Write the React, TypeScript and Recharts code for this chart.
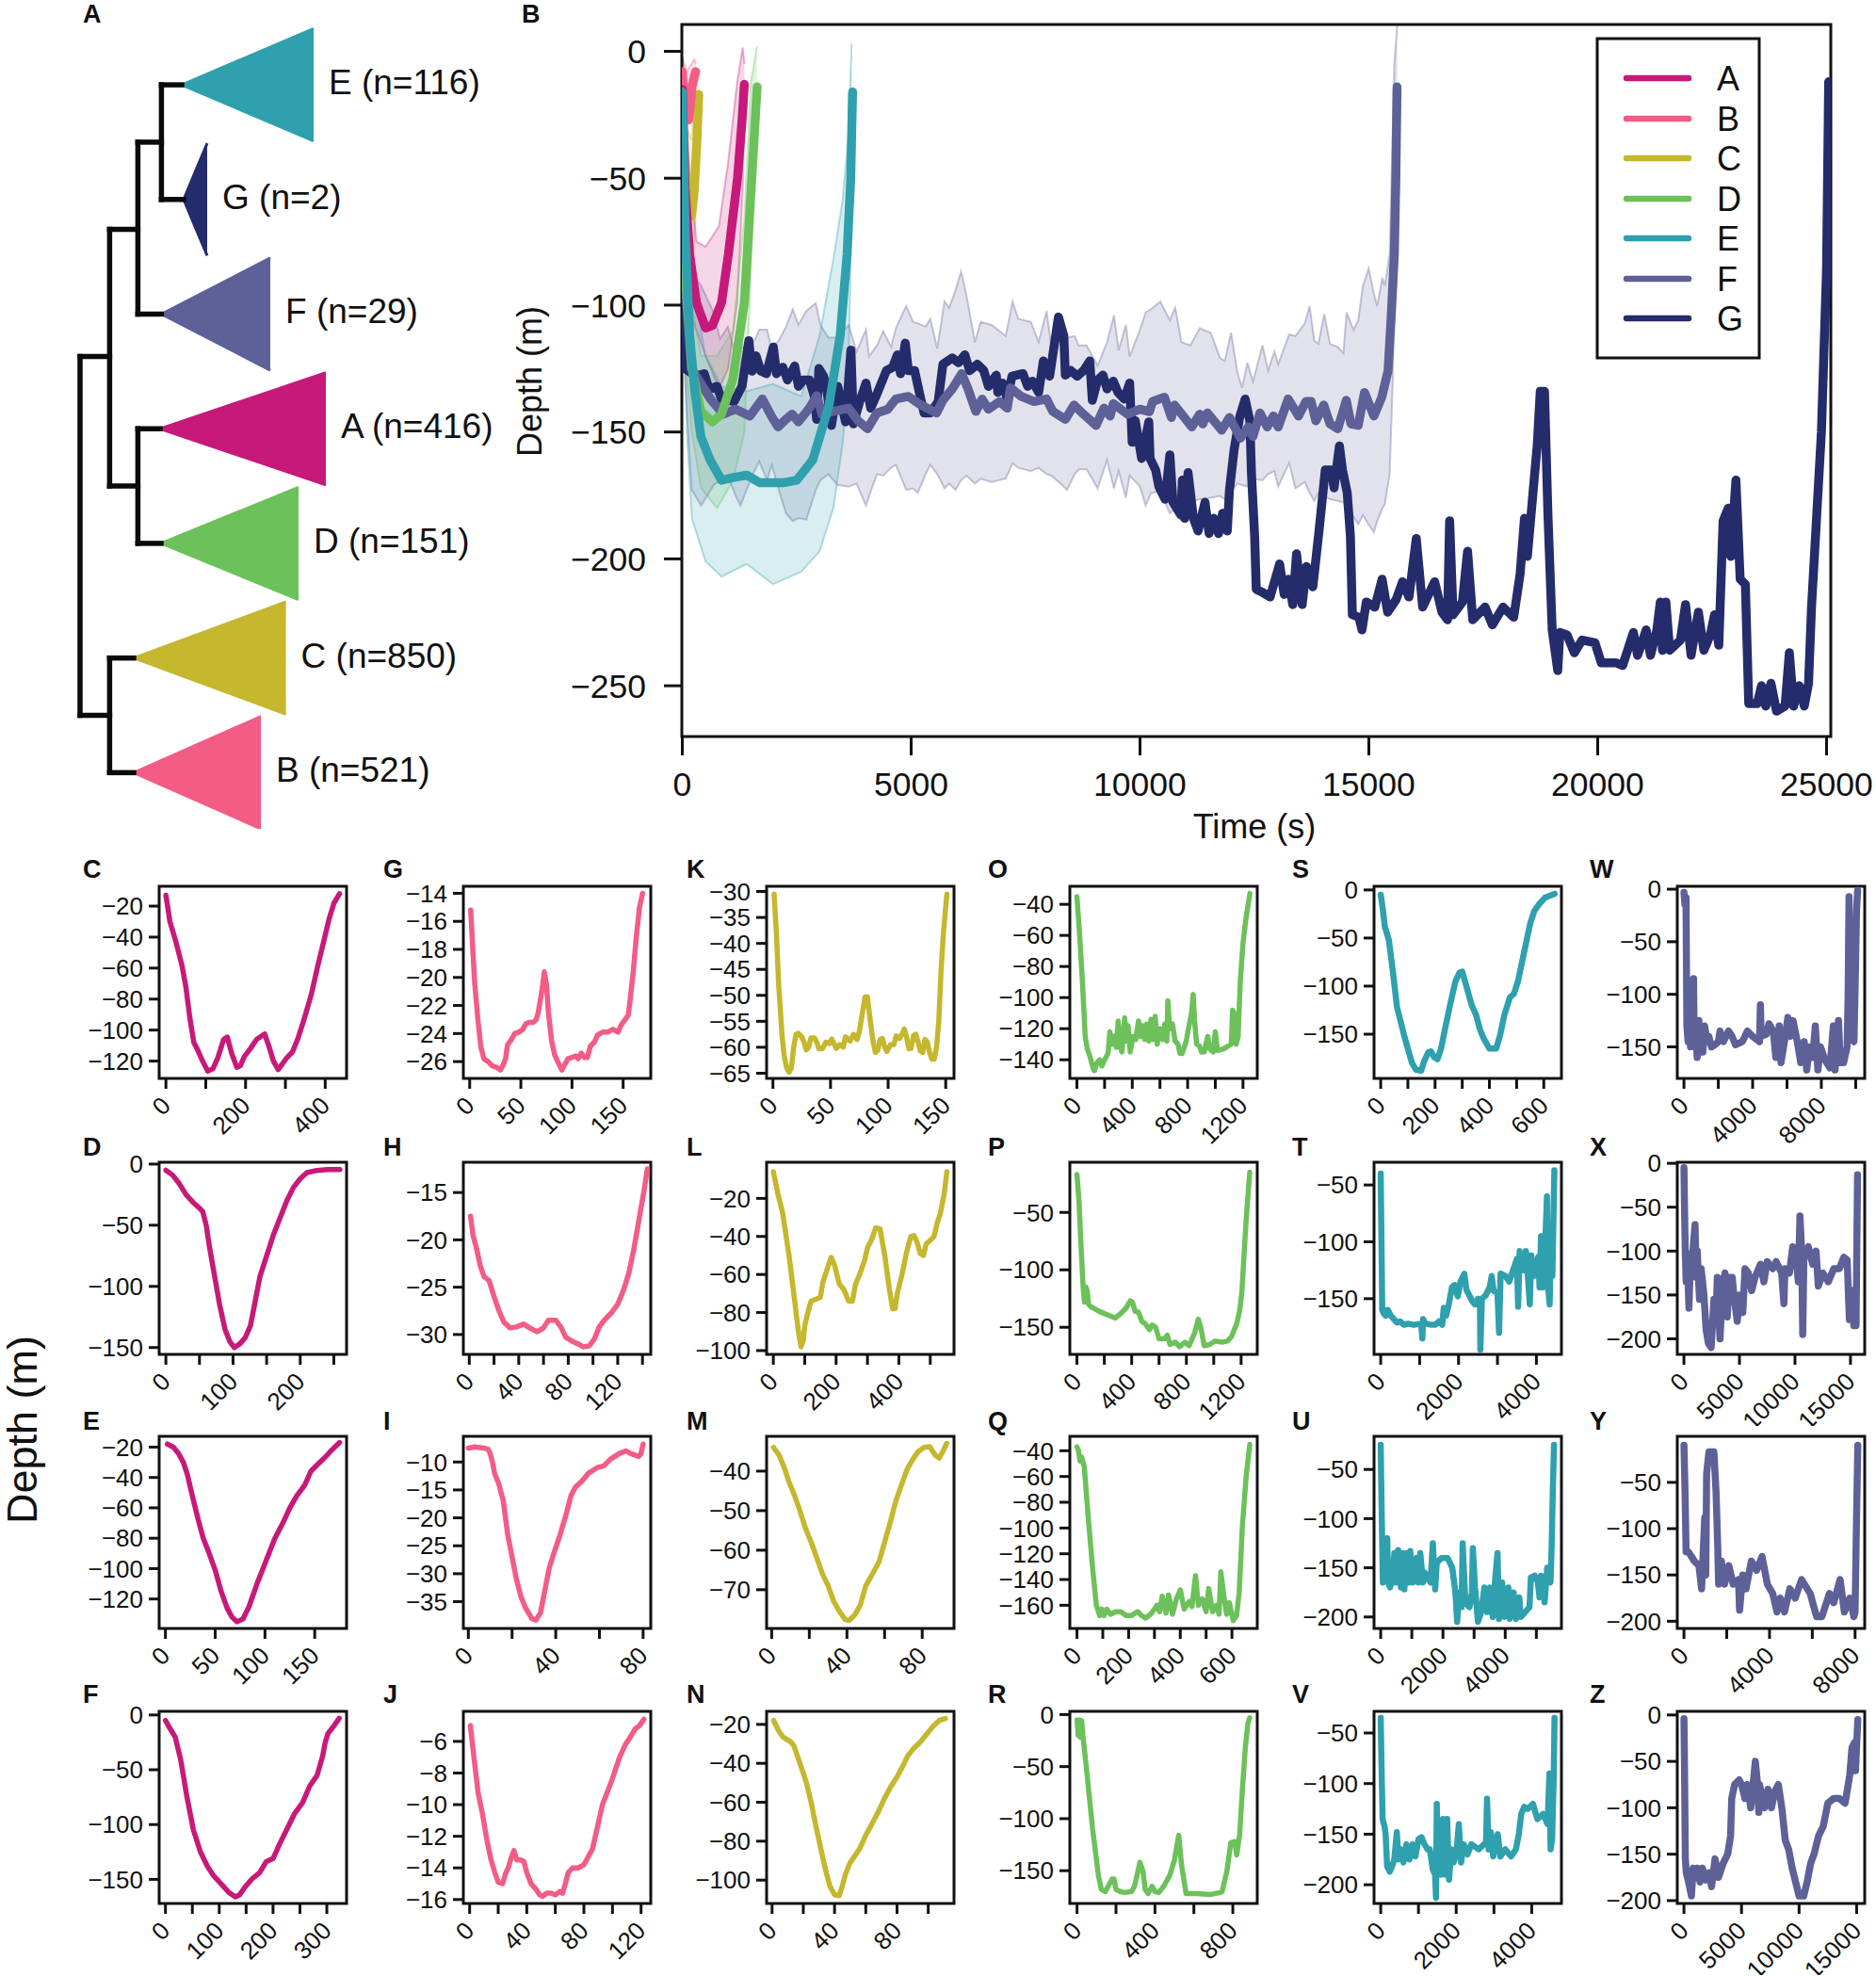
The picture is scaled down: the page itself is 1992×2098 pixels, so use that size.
import { Area, ComposedChart, Line, LineChart, ReferenceArea, XAxis, YAxis } from "recharts";

const FONT = "'Liberation Sans', Arial, sans-serif";
const INK = "#111";

const COLORS: Record<string, string> = {
  A: "#C7197A",
  B: "#F25C85",
  C: "#C5B72E",
  D: "#6CC15A",
  E: "#2FA0AD",
  F: "#5E6098",
  G: "#252C6B",
};
const legendNames = ["A", "B", "C", "D", "E", "F", "G"];

// panel A: tree, x is branch length, y is leaf order
const treeClades = ["E", "G", "F", "A", "D", "C", "B"];
const treeCounts = [116, 2, 29, 416, 151, 850, 521];
const treeTips = [193, 195, 171.4, 170, 171, 142, 142];
const treeBases = [333, 220, 287, 346, 317, 303.6, 277];
const treeBranches = [
  [[171.4, 1], [193, 1]], [[171.4, 1], [171.4, 2]], [[171.4, 2], [195, 2]],
  [[146.4, 1.5], [171.4, 1.5]], [[146.4, 1.5], [146.4, 3]], [[146.4, 3], [171.4, 3]],
  [[116.4, 2.26], [146.4, 2.26]], [[116.4, 2.26], [116.4, 4.5]], [[116.4, 4.5], [146.4, 4.5]],
  [[146.4, 4], [146.4, 5]], [[146.4, 4], [170, 4]], [[146.4, 5], [171, 5]],
  [[85, 3.37], [116.4, 3.37]], [[85, 3.37], [85, 6.5]], [[85, 6.5], [116.4, 6.5]],
  [[116.4, 6], [116.4, 7]], [[116.4, 6], [142, 6]], [[116.4, 7], [142, 7]],
];

// panel B: mean depth per cluster [time, depth]
const meanA = [[0,-15],[60,-54],[160,-80],[309,-99],[508,-109],[658,-108],[857,-99],[1007,-80],[1206,-50],[1306,-27],[1356,-13]];
const meanB = [[0,-8],[40,-18],[100,-25],[140,-27],[180,-20],[210,-14],[290,-8]];
const meanC = [[0,-20],[50,-45],[120,-62],[200,-65],[260,-55],[320,-35],[359,-17]];
const meanD = [[0,-40],[60,-86],[209,-125],[408,-142],[658,-146],[857,-143],[1107,-129],[1356,-99],[1505,-54],[1635,-14]];
const meanE = [[0,-16],[60,-70],[160,-112],[280,-135],[408,-152],[608,-161],[857,-169],[1100,-168],[1405,-167],[1700,-170],[1900,-170],[2200,-170],[2500,-169],[2850,-161],[3200,-140],[3450,-112],[3600,-80],[3680,-50],[3720,-16]];
const meanF = [[0,-20],[60,-90],[200,-125],[617,-137],[892,-143],[1166,-141],[1475,-143.7],[1749,-137],[1955,-144],[2092,-148],[2264,-145],[2401,-143],[2538,-146],[2778,-140.6],[2936,-135.7],[3053,-143],[3293,-141.9],[3636,-140.6],[3842,-145.6],[4047,-148.7],[4253,-142.5],[4493,-141],[4665,-137],[4939,-136],[5214,-139.4],[5557,-142.5],[5694,-137.5],[5900,-133],[6105,-127],[6243,-133],[6414,-141.9],[6551,-137],[6689,-141],[6929,-138],[7100,-140.6],[7169,-132.6],[7409,-136],[7683,-138],[7958,-137],[8095,-141.9],[8369,-145],[8560,-139.4],[8766,-143],[9040,-147.4],[9211,-140.6],[9349,-143.7],[9417,-138.8],[9726,-143],[10000,-141],[10206,-142],[10275,-138],[10535,-136.3],[10686,-144.3],[10755,-139.4],[11132,-148],[11304,-143],[11372,-146.8],[11475,-142.5],[11784,-149.3],[11955,-144.3],[12196,-152.4],[12367,-148],[12470,-151.7],[12621,-142.5],[12779,-148],[12916,-143.7],[13019,-148],[13238,-137],[13465,-143.7],[13623,-138],[13739,-138],[13842,-145.6],[14014,-139.4],[14151,-146.8],[14322,-148.7],[14507,-137.5],[14610,-146.8],[14768,-147.4],[14905,-134.4],[15111,-143.7],[15283,-136.3],[15420,-125.8],[15488,-104.7],[15557,-80],[15590,-50],[15616,-14]];
const meanG = [[0,-15],[30,-100],[60,-125],[300,-128],[480,-127],[583,-133],[755,-132],[858,-137],[1132,-138],[1303,-132],[1454,-114],[1523,-126],[1612,-120],[1715,-126],[1838,-127],[1989,-116.5],[2058,-127],[2195,-124.5],[2298,-129.5],[2456,-124],[2538,-132],[2641,-129.5],[2778,-129.5],[2881,-135.7],[2936,-145],[2984,-125],[3087,-128],[3155,-133],[3258,-147.4],[3396,-132],[3567,-146],[3684,-117.7],[3739,-146.8],[3876,-138],[4013,-130.7],[4116,-140.6],[4253,-135],[4459,-125.8],[4596,-124.5],[4699,-119.6],[4768,-127],[4871,-115],[4939,-125.8],[5076,-125.8],[5179,-134.4],[5282,-142.5],[5419,-142.5],[5591,-138],[5694,-123.3],[5900,-120.8],[6037,-122.7],[6174,-119.6],[6277,-125.8],[6448,-123.3],[6586,-125.8],[6689,-132],[6860,-127.6],[6894,-134.4],[6997,-130.7],[7100,-137],[7203,-128],[7443,-127],[7546,-132],[7649,-130],[7786,-134.4],[7889,-122],[8026,-128],[8218,-104.7],[8335,-112],[8369,-127.6],[8491,-125.8],[8628,-128],[8766,-125.8],[8903,-122],[8958,-137.5],[9074,-129.5],[9191,-127.6],[9280,-133],[9417,-130],[9520,-134.4],[9657,-137],[9774,-130.7],[9829,-154],[9897,-145.6],[10035,-160.4],[10192,-146],[10220,-160.4],[10343,-165],[10412,-171.5],[10549,-176.5],[10652,-159],[10721,-177.7],[10892,-182.7],[10926,-169],[10974,-184],[11050,-166],[11167,-184],[11270,-189],[11420,-177.7],[11510,-190],[11613,-184],[11716,-190],[11805,-182],[11907,-189],[11955,-172.8],[12058,-156.7],[12180,-144],[12298,-137],[12400,-145.6],[12436,-166.6],[12505,-191],[12540,-212],[12656,-213],[12843,-215],[13050,-202],[13150,-214],[13245,-208],[13338,-218],[13420,-198],[13543,-218],[13637,-203],[13777,-211],[13911,-189],[14048,-165],[14185,-165],[14240,-172],[14357,-155.5],[14425,-165],[14528,-174],[14597,-191],[14640,-222],[14785,-223],[14850,-228],[14944,-217],[15130,-219],[15290,-208],[15410,-221],[15597,-216],[15737,-209],[15877,-215],[16036,-192],[16176,-219],[16438,-209],[16597,-221],[16718,-224],[16765,-185],[16840,-222],[17045,-217],[17157,-197],[17270,-224],[17540,-219],[17698,-226],[17932,-219],[18165,-223],[18305,-206],[18400,-184],[18464,-199],[18586,-174],[18680,-155],[18745,-134],[18838,-134],[18912,-182],[19006,-228],[19127,-244],[19174,-229],[19332,-230],[19491,-237],[19659,-232],[19939,-233],[20080,-241],[20406,-241],[20546,-242],[20780,-229],[20873,-238],[21060,-228],[21153,-238],[21293,-228],[21368,-217],[21415,-236],[21490,-217],[21573,-236],[21807,-232],[21919,-218],[22040,-238],[22200,-221],[22320,-236],[22460,-230],[22553,-222],[22646,-234],[22740,-185],[22852,-180],[22908,-199],[23020,-169],[23113,-208],[23226,-210],[23300,-257],[23487,-257],[23580,-250],[23673,-258],[23785,-249],[23907,-260],[24094,-258],[24187,-237],[24280,-258],[24402,-250],[24514,-258],[24607,-249],[24672,-219],[24794,-180],[24888,-150],[25000,-86],[25047,-12]];

// panel B: shaded range per cluster [time, low, high]
const rangeA = [[0,-30,-2],[60,-86,-20],[160,-103,-48],[309,-110,-75],[508,-120,-77],[800,-133,-69],[1000,-125,-44],[1200,-99,-12],[1320,-54,1.5],[1356,-25,-5]];
const rangeB = [[0,-15,-2],[100,-30,-8],[200,-20,-5],[260,-10,-3],[300,-9,-5]];
const rangeC = [[0,-10,-5],[100,-90,-30],[200,-95,-35],[300,-60,-10],[359,-25,-8]];
const rangeD = [[0,-60,-10],[60,-120,-50],[209,-150,-100],[408,-172,-120],[760,-180,-120],[1107,-169,-110],[1356,-150,-65],[1500,-86,-12],[1635,-20,2]];
const rangeE = [[0,-60,-8],[100,-150,-60],[209,-184,-90],[508,-201,-120],[857,-207,-132],[1405,-202,-134],[1984,-210,-131],[2600,-205,-136],[3000,-197,-112],[3300,-180,-82],[3500,-155,-59],[3630,-129,-33],[3700,-60,3]];
const rangeF = [[0,-60,-10],[60,-130,-60],[206,-172.8,-87.4],[412,-179,-92.4],[686,-170.9,-102.9],[823,-169,-113.4],[995,-167.2,-108.5],[1166,-175.2,-120.2],[1269,-179,-117.1],[1406,-172.8,-115.9],[1578,-165.4,-114],[1681,-161.6,-109.7],[1852,-169,-109.7],[1955,-162.9,-117.7],[2127,-174,-113.4],[2264,-182,-108.5],[2415,-185.1,-101.6],[2538,-183.9,-107.8],[2710,-184.5,-102.3],[2916,-172.8,-99.2],[3018,-169,-107.8],[3190,-166.6,-112.8],[3396,-170.9,-112.8],[3636,-171.5,-107.8],[3807,-170.3,-118.3],[4013,-179,-109.7],[4082,-175.2,-120.2],[4253,-166.6,-115.9],[4390,-167.2,-110.3],[4562,-164.1,-116.5],[4665,-162.9,-109.1],[4891,-172.8,-100.4],[5042,-172.2,-106.6],[5145,-174,-107.2],[5317,-166.6,-108.5],[5419,-162.9,-105.4],[5570,-166.6,-117.1],[5728,-172.2,-98.6],[5831,-170.3,-101],[5968,-172.8,-94.2],[6092,-169,-86.8],[6208,-167.2,-96.1],[6394,-170.3,-114.6],[6517,-168.4,-106.6],[6757,-169.7,-107.8],[7066,-168.4,-112.2],[7217,-162.3,-98.6],[7340,-164.1,-105.4],[7615,-165.4,-106.6],[7786,-164.1,-114.6],[7958,-166.6,-102.3],[8061,-167.2,-115.9],[8301,-170.9,-113.4],[8404,-172.8,-112.8],[8575,-166.6,-112.2],[8663,-164.7,-115.9],[8834,-164.7,-115.9],[9074,-172.2,-123.9],[9280,-161,-114.6],[9431,-172.2,-104.1],[9534,-165.4,-117.7],[9692,-175.9,-107.8],[9774,-167.2,-120.2],[10000,-171.5,-109.7],[10124,-179,-102.9],[10241,-174,-101.6],[10446,-173.4,-98.6],[10652,-182,-106],[10769,-180.2,-101],[10906,-179,-114.6],[11098,-177.7,-115.9],[11304,-176.5,-109.1],[11544,-175.9,-110.9],[11750,-175.2,-120.8],[11853,-176.5,-122],[11990,-173.4,-110.9],[12127,-170.3,-126.4],[12230,-170.9,-132.6],[12347,-171.5,-122.7],[12470,-168.4,-130.1],[12676,-169,-115.9],[12799,-166.6,-125.8],[12936,-165.4,-118.3],[13019,-171.5,-123.3],[13259,-162.3,-111.5],[13396,-172.2,-112.2],[13602,-169.7,-107.2],[13705,-174,-100.4],[13808,-177.1,-114],[13897,-174,-115.3],[14027,-175.2,-103.5],[14151,-176.5,-115.3],[14322,-177.1,-116.5],[14445,-177.7,-119],[14514,-180.2,-102.9],[14665,-183.3,-109.7],[14768,-186.4,-106],[14871,-182.7,-92.4],[14995,-186.4,-85.6],[15111,-189.5,-95.5],[15180,-185.1,-100.4],[15296,-180.2,-89.3],[15351,-178.3,-92.4],[15454,-166.6,-80],[15523,-129.5,-30],[15557,-92,-5],[15620,-14,10.4]];

const timeTicks = [0, 5000, 10000, 15000, 20000, 25000];
const depthTicks = [0, -50, -100, -150, -200, -250];

// panels C to Z: single dive profiles [time, depth]
const diveC = [[0,-13],[10,-30],[25,-43],[40,-58],[50,-72],[60,-92],[70,-108],[80,-113],[92,-120],[105,-126.5],[118,-125],[130,-118],[145,-106],[154,-104.5],[165,-115],[178,-124],[187,-123],[197,-117],[212,-112],[228,-106],[248,-102.5],[258,-110],[270,-120],[282,-125.5],[292,-122],[303,-118],[318,-114],[332,-105],[347,-93],[365,-77],[380,-60],[395,-44],[410,-28],[422,-18],[436,-12]];
const diveD = [[0,-5],[10,-9],[20,-16],[30,-25],[40,-31],[50,-36],[55,-39],[60,-50],[65,-68],[72,-90],[80,-115],[88,-135],[95,-145],[102,-150],[110,-147],[118,-142],[126,-132],[133,-112],[140,-92],[150,-75],[160,-58],[170,-44],[180,-30],[190,-19],[200,-12],[210,-7],[222,-5.5],[240,-4.5],[259,-4.5]];
const diveE = [[2,-18],[8,-20],[13,-24],[18,-30],[22,-38],[27,-52],[33,-68],[38,-80],[44,-90],[50,-101],[56,-115],[62,-126],[67,-132],[72,-135],[78,-133],[84,-125],[92,-110],[98,-100],[104,-90],[110,-80],[118,-70],[125,-60],[132,-52],[140,-45],[146,-36],[152,-32],[160,-27],[167,-22],[175,-17]];
const diveF = [[0,-5],[8,-12],[18,-20],[28,-40],[40,-75],[52,-105],[65,-125],[78,-138],[90,-147],[105,-155],[118,-162],[130,-166],[138,-164],[148,-157],[160,-150],[175,-144],[187,-134],[200,-131],[212,-118],[225,-105],[240,-90],[255,-80],[268,-65],[282,-55],[292,-38],[297,-25],[302,-17],[310,-12],[316,-8],[323,-3]];
const diveG = [[1,-15.2],[3,-18],[5,-20.5],[8,-23],[11,-25],[14,-25.8],[18,-26],[22,-26.3],[26,-26.4],[30,-26.6],[33,-26.2],[35,-25.8],[37,-24.8],[40,-24.5],[44,-24],[48,-23.9],[52,-23.7],[55,-23.3],[58,-23.2],[62,-23.2],[65,-23],[67,-22.5],[70,-21.2],[72,-20.2],[73,-19.6],[75,-20.5],[77,-22.5],[80,-24.5],[83,-25.5],[86,-26],[90,-26.6],[93,-26.2],[96,-25.8],[100,-25.7],[104,-25.6],[106,-25.8],[109,-25.4],[112,-25.7],[115,-25.7],[118,-24.9],[122,-24.6],[125,-24.1],[130,-23.9],[135,-23.9],[140,-23.7],[145,-23.9],[148,-23.4],[152,-23],[155,-22.7],[157,-21.5],[160,-19.5],[163,-17],[166,-15],[169,-14]];
const diveH = [[1,-17.5],[3,-19.5],[6,-21],[9,-22.8],[12,-23.9],[16,-24.3],[20,-26],[24,-27.5],[28,-28.7],[33,-29.3],[38,-29.2],[44,-28.9],[50,-29.4],[55,-29.7],[60,-29.3],[64,-28.5],[70,-28.5],[74,-29.2],[78,-30.3],[83,-30.7],[88,-31],[92,-31.3],[97,-31.2],[101,-30.5],[105,-29.2],[109,-28.5],[115,-27.7],[120,-26.8],[125,-25.2],[129,-23.5],[133,-21],[137,-18],[141,-15],[144,-12.5]];
const diveI = [[0,-7.5],[3,-7.3],[7,-7.5],[9,-7.7],[10,-8.5],[11,-10],[12,-12],[14,-14],[15,-15.5],[16,-17],[17,-20],[18,-23],[20,-27],[22,-31],[24,-34],[26,-36],[29,-38],[31,-38.3],[33,-37],[35,-33],[37,-29],[39,-26.5],[42,-23],[45,-19],[47,-16],[49,-14.5],[52,-13.4],[55,-12],[59,-11],[62,-10.7],[65,-9.5],[69,-8.5],[72,-8],[75,-8.6],[78,-9],[79,-8.5],[80,-6.8]];
const diveJ = [[0.5,-5],[3,-7],[6,-9.3],[9,-10.6],[12,-12.2],[15,-13.5],[18,-14.4],[20,-14.9],[23,-15],[25,-14.4],[27,-14],[29,-13.4],[31,-12.9],[33,-13.5],[36,-13.5],[38,-13.6],[40,-14.3],[43,-15],[46,-15.3],[49,-15.7],[51,-15.8],[54,-15.6],[57,-15.6],[60,-15.7],[63,-15.5],[65,-15.6],[67,-15],[69,-14.3],[72,-14],[76,-14],[80,-13.8],[83,-13.3],[86,-12.8],[88,-12],[91,-10.8],[93,-10],[96,-9.3],[99,-8.6],[102,-7.8],[105,-7],[109,-6.2],[112,-5.8],[116,-5.2],[119,-5],[122,-4.6]];
const diveK = [[1,-30.5],[3,-38],[5,-48],[8,-58],[10,-62],[12,-64],[14,-64.8],[16,-64],[18,-60],[20,-57.5],[22,-57.3],[25,-58],[27,-59],[29,-60.5],[31,-60],[33,-58.2],[36,-58.2],[38,-59],[40,-60.3],[43,-60.3],[46,-59],[49,-59.3],[51,-58.4],[53,-59.3],[55,-60.2],[58,-59.5],[61,-60],[63,-58],[65,-58.4],[67,-58.8],[70,-57.5],[73,-58.5],[75,-57],[78,-53],[80,-50.3],[82,-50.3],[84,-54],[87,-59],[89,-61],[91,-60.6],[93,-58.5],[95,-58.3],[97,-60],[99,-60.8],[102,-59.5],[105,-59.5],[107,-57.8],[110,-58.3],[112,-57.5],[114,-56.5],[116,-58],[118,-60.3],[120,-60.2],[122,-57.8],[124,-57.5],[126,-59],[128,-60.7],[130,-61],[132,-58.5],[134,-59],[136,-61],[138,-62.3],[140,-62.3],[142,-60],[144,-55],[146,-45],[148,-38],[151,-30.5]];
const diveL = [[0,-6],[15,-18],[30,-28],[50,-50],[65,-70],[80,-90],[88,-98],[95,-95],[100,-87],[110,-80],[120,-74],[135,-73],[150,-72],[158,-64],[170,-58],[184,-51],[195,-55],[210,-65],[225,-68],[240,-74],[252,-74],[262,-65],[275,-60],[290,-53],[300,-46],[315,-41],[326,-35.5],[340,-36],[355,-50],[370,-68],[380,-78],[388,-78],[395,-70],[410,-60],[425,-48],[438,-40],[448,-39.5],[458,-43],[468,-49],[478,-50],[487,-44],[500,-42],[512,-40],[522,-33],[532,-28],[544,-18],[553,-6]];
const diveM = [[1,-34],[4,-36],[7,-39.5],[9,-42.5],[12,-46],[15,-50],[18,-54.5],[21,-58],[24,-62],[27,-66],[30,-69],[33,-73],[36,-75.5],[39,-77.5],[41,-77.8],[44,-76.5],[47,-74],[50,-69],[53,-66.5],[57,-63],[60,-58],[63,-53],[66,-47.5],[69,-43.5],[72,-39.5],[75,-37],[78,-35],[81,-34],[84,-33.8],[87,-36],[89,-36.7],[91,-35],[93,-33]];
const diveN = [[1,-18],[4,-23],[7,-26.5],[10,-28],[12,-29],[14,-31],[17,-38],[20,-45],[22,-50],[25,-60],[28,-72],[31,-83],[34,-94],[37,-103],[40,-107.5],[43,-108],[45,-103],[47,-97],[50,-91],[53,-87.5],[56,-84],[60,-77],[64,-71],[68,-65],[72,-58],[76,-52],[80,-47],[84,-41],[87,-36],[91,-32],[95,-29],[99,-25],[103,-21],[107,-18],[111,-17]];
const diveO = [[0,-35],[20,-60],[40,-90],[60,-125],[75,-133],[95,-138],[115,-145],[126,-147],[145,-142],[165,-140],[180,-144],[200,-140],[225,-136],[238,-122],[250,-130],[270,-125],[285,-132],[298,-115],[310,-130],[325,-135],[345,-113],[358,-128],[370,-118],[385,-135],[405,-125],[425,-127],[445,-115],[460,-125],[475,-118],[490,-127],[505,-117],[520,-128],[535,-114],[550,-127],[565,-112],[580,-130],[600,-120],[620,-127],[635,-117],[650,-128],[657,-102],[670,-120],[690,-117],[710,-128],[730,-130],[745,-136],[760,-136],[790,-128],[810,-118],[828,-110],[840,-98],[850,-115],[865,-130],[885,-131],[900,-135],[920,-135],[945,-125],[960,-133],[985,-135],[1000,-122],[1015,-134],[1060,-133],[1095,-131],[1115,-130],[1125,-108],[1135,-110],[1150,-130],[1165,-125],[1180,-90],[1200,-65],[1220,-50],[1250,-33]];
const diveP = [[0,-17],[15,-40],[30,-80],[45,-115],[55,-128],[65,-115],[75,-118],[85,-130],[100,-132],[130,-134],[160,-136],[200,-138],[240,-140],[280,-142],[320,-138],[360,-133],[390,-127],[405,-128],[425,-136],[450,-137],[475,-145],[500,-147],[530,-152],[550,-148],[575,-150],[600,-160],[640,-160],[660,-157],[680,-165],[720,-163],[750,-167],[790,-163],[820,-166],[860,-155],[887,-143],[905,-150],[930,-166],[970,-165],[1010,-162],[1060,-163],[1100,-162],[1130,-158],[1150,-152],[1170,-146],[1190,-135],[1205,-120],[1220,-90],[1235,-60],[1250,-35],[1263,-15]];
const diveQ = [[0,-37],[6,-40],[12,-48],[18,-45],[28,-52],[45,-95],[60,-130],[75,-160],[88,-168],[95,-163],[105,-168],[115,-163],[130,-167],[150,-165],[170,-165],[190,-168],[210,-168],[235,-165],[250,-168],[265,-170],[285,-167],[300,-163],[310,-160],[320,-165],[330,-153],[345,-166],[355,-152],[370,-167],[385,-155],[400,-148],[415,-163],[435,-157],[445,-161],[459,-137],[470,-160],[485,-155],[500,-165],[510,-147],[525,-165],[540,-160],[550,-167],[557,-134],[570,-155],[580,-167],[590,-158],[605,-172],[618,-168],[628,-150],[640,-100],[655,-60],[669,-35]];
const diveR = [[0,-5],[6,-20],[12,-5],[18,-22],[24,-6],[30,-20],[50,-55],[80,-110],[110,-155],[125,-168],[145,-170],[160,-165],[180,-158],[190,-158],[200,-168],[220,-170],[245,-171],[280,-170],[295,-165],[323,-142],[338,-150],[350,-168],[365,-172],[385,-165],[400,-170],[420,-171],[445,-165],[475,-155],[500,-140],[522,-116],[537,-145],[560,-172],[620,-172],[680,-173],[735,-171],[745,-170],[770,-150],[790,-123],[810,-122],[820,-135],[835,-115],[850,-70],[865,-30],[878,-8],[887,-3]];
const diveS = [[0,-5],[8,-20],[15,-38],[30,-52],[45,-85],[60,-122],[72,-135],[85,-150],[100,-165],[115,-180],[130,-187],[149,-188],[160,-178],[175,-169],[185,-168],[197,-174],[209,-176],[222,-165],[240,-140],[255,-120],[275,-95],[290,-86],[300,-85],[315,-100],[335,-120],[351,-130],[365,-145],[380,-155],[400,-165],[425,-165],[440,-150],[455,-130],[475,-112],[490,-108],[505,-95],[520,-75],[535,-55],[550,-35],[565,-22],[585,-14],[605,-8],[622,-6],[640,-4]];
const diveT = [[0,-40],[20,-100],[40,-160],[80,-163],[130,-165],[180,-160],[260,-165],[340,-168],[420,-171],[500,-170],[600,-173],[700,-172],[850,-173],[1040,-172],[1070,-185],[1090,-168],[1150,-172],[1300,-173],[1400,-173],[1500,-170],[1580,-173],[1620,-158],[1680,-165],[1750,-155],[1830,-140],[1900,-138],[1980,-148],[2050,-135],[2150,-128],[2200,-142],[2350,-152],[2420,-155],[2500,-150],[2550,-153],[2560,-195],[2600,-150],[2700,-147],[2800,-140],[2850,-130],[2900,-143],[3000,-145],[3040,-180],[3080,-128],[3200,-130],[3300,-135],[3400,-125],[3500,-115],[3530,-157],[3570,-108],[3680,-125],[3730,-108],[3780,-130],[3830,-155],[3870,-112],[3930,-130],[4050,-113],[4080,-140],[4120,-95],[4170,-140],[4210,-118],[4270,-60],[4300,-140],[4340,-155],[4370,-100],[4410,-130],[4461,-37]];
const diveU = [[0,-25],[30,-90],[70,-165],[130,-125],[210,-120],[240,-165],[300,-170],[380,-160],[440,-135],[490,-165],[560,-132],[650,-170],[690,-135],[760,-172],[830,-135],[900,-165],[950,-133],[1030,-165],[1100,-145],[1150,-140],[1210,-165],[1270,-135],[1360,-165],[1420,-155],[1600,-165],[1675,-125],[1750,-172],[1800,-145],[1950,-140],[2150,-140],[2300,-150],[2400,-175],[2455,-205],[2530,-175],[2600,-190],[2632,-125],[2720,-185],[2850,-190],[2930,-175],[2960,-130],[3030,-170],[3123,-205],[3230,-195],[3330,-170],[3420,-195],[3510,-170],[3600,-200],[3680,-160],[3753,-135],[3800,-202],[3900,-165],[3980,-200],[4100,-170],[4150,-202],[4270,-175],[4350,-202],[4450,-180],[4500,-200],[4640,-195],[4780,-190],[4824,-160],[4950,-158],[5050,-165],[5100,-180],[5150,-158],[5264,-185],[5350,-150],[5453,-165],[5490,-130],[5530,-70],[5567,-25]];
const diveV = [[0,-35],[20,-80],[50,-135],[100,-142],[130,-150],[170,-182],[240,-187],[300,-182],[360,-175],[426,-148],[470,-175],[540,-165],[600,-178],[680,-160],[760,-175],[840,-160],[920,-172],[1000,-155],[1080,-153],[1160,-160],[1240,-165],[1300,-165],[1380,-185],[1440,-190],[1466,-213],[1486,-120],[1510,-190],[1560,-170],[1600,-190],[1650,-135],[1720,-190],[1760,-135],[1810,-195],[1870,-165],[1930,-178],[2000,-170],[2070,-140],[2130,-178],[2200,-160],[2300,-170],[2400,-160],[2600,-165],[2790,-158],[2817,-115],[2860,-165],[2920,-148],[2980,-172],[3100,-150],[3170,-172],[3300,-165],[3450,-172],[3580,-165],[3660,-150],[3721,-130],[3800,-123],[3900,-125],[4033,-120],[4150,-135],[4300,-130],[4420,-140],[4470,-90],[4500,-165],[4540,-155],[4580,-100],[4605,-35]];
const diveW = [[0,-3],[60,-15],[120,-8],[170,-130],[240,-145],[300,-128],[380,-150],[470,-97],[500,-140],[530,-118],[560,-85],[600,-150],[680,-135],[770,-160],[850,-150],[870,-125],[930,-155],[1000,-138],[1100,-155],[1200,-130],[1350,-145],[1450,-140],[1600,-150],[1800,-148],[2000,-145],[2100,-135],[2300,-145],[2600,-135],[2800,-140],[3000,-148],[3400,-145],[3700,-135],[4000,-140],[4400,-145],[4452,-110],[4500,-140],[4800,-138],[4950,-128],[5200,-135],[5350,-160],[5550,-130],[5650,-165],[5900,-140],[6050,-122],[6200,-140],[6350,-125],[6600,-145],[6800,-165],[7000,-145],[7150,-172],[7300,-150],[7500,-160],[7650,-130],[7800,-172],[7950,-150],[8200,-162],[8500,-170],[8700,-130],[8800,-172],[9000,-125],[9100,-165],[9300,-165],[9500,-150],[9560,-100],[9612,-7],[9680,-100],[9800,-143],[9900,-145],[9960,-100],[10050,-20],[10114,-1]];
const diveX = [[0,-5],[50,-50],[120,-100],[200,-135],[300,-105],[450,-165],[600,-105],[800,-100],[1000,-70],[1100,-130],[1200,-100],[1400,-155],[1550,-120],[1800,-150],[2000,-190],[2200,-205],[2450,-210],[2700,-155],[2900,-175],[3000,-130],[3250,-200],[3500,-135],[3700,-125],[3900,-175],[4100,-130],[4350,-130],[4500,-150],[4800,-180],[5000,-150],[5300,-170],[5500,-120],[5800,-125],[6100,-145],[6400,-130],[6900,-115],[7200,-135],[7500,-112],[8000,-120],[8300,-112],[8800,-125],[9000,-160],[9100,-120],[9500,-125],[9800,-95],[10100,-105],[10300,-135],[10450,-60],[10600,-100],[10700,-195],[10800,-110],[11200,-95],[11600,-115],[11900,-100],[12100,-140],[12500,-125],[13000,-135],[13500,-120],[14000,-120],[14400,-107],[14700,-110],[14900,-178],[15150,-145],[15300,-185],[15500,-185],[15636,-13]];
const diveY = [[0,-10],[50,-60],[100,-125],[200,-125],[350,-130],[480,-135],[700,-140],[825,-165],[900,-125],[972,-88],[1020,-150],[1060,-40],[1170,-17],[1400,-17],[1500,-60],[1580,-120],[1620,-160],[1750,-135],[1900,-160],[2100,-140],[2300,-160],[2550,-155],[2600,-188],[2750,-150],[2900,-165],[3150,-135],[3400,-145],[3650,-130],[3900,-160],[4150,-170],[4350,-190],[4500,-175],[4700,-190],[4950,-165],[5200,-175],[5500,-155],[5900,-170],[6200,-195],[6450,-195],[6800,-170],[7000,-180],[7300,-155],[7500,-190],[7750,-175],[7945,-195],[8000,-190],[8060,-100],[8128,-10]];
const diveZ = [[0,-4],[50,-60],[120,-155],[200,-170],[400,-180],[650,-195],[800,-165],[1000,-175],[1150,-165],[1400,-180],[1600,-165],[1900,-178],[2200,-170],[2400,-185],[2700,-155],[3000,-175],[3400,-160],[3800,-150],[4050,-130],[4150,-90],[4400,-75],[4800,-70],[5000,-75],[5300,-90],[5500,-75],[5800,-100],[6200,-50],[6400,-75],[6500,-105],[6560,-75],[7000,-100],[7300,-80],[7600,-100],[7900,-82],[8200,-75],[8500,-100],[8800,-135],[9100,-145],[9400,-165],[10000,-195],[10400,-195],[10700,-180],[11000,-160],[11300,-150],[11700,-130],[12100,-120],[12500,-95],[13000,-90],[13500,-90],[14000,-95],[14400,-65],[14600,-35],[14800,-30],[14900,-60],[15100,-5]];

const PANELS = [
  // column 1
  { id: "C", clade: "A", data: diveC, xDomain: [-17, 453.6], yDomain: [-131.2, -7.2], xTicks: [0,100,200,300,400], xLabels: [0,200,400], yTicks: [-20,-40,-60,-80,-100,-120] },
  { id: "D", clade: "A", data: diveD, xDomain: [-10, 269], yDomain: [-155.6, 1.5], xTicks: [0,50,100,150,200,250], xLabels: [0,100,200], yTicks: [0,-50,-100,-150] },
  { id: "E", clade: "A", data: diveE, xDomain: [-6.3, 182], yDomain: [-139.4, -12.9], xTicks: [0,50,100,150], xLabels: [0,50,100,150], yTicks: [-20,-40,-60,-80,-100,-120] },
  { id: "F", clade: "A", data: diveF, xDomain: [-11.7, 336.7], yDomain: [-172, 3.3], xTicks: [0,50,100,150,200,250,300], xLabels: [0,100,200,300], yTicks: [0,-50,-100,-150] },
  // column 2
  { id: "G", clade: "B", data: diveG, xDomain: [-6.2, 177], yDomain: [-27.2, -13.5], xTicks: [0,50,100,150], xLabels: [0,50,100,150], yTicks: [-14,-16,-18,-20,-22,-24,-26] },
  { id: "H", clade: "B", data: diveH, xDomain: [-4.8, 146.7], yDomain: [-32.1, -11.8], xTicks: [0,20,40,60,80,100,120,140], xLabels: [0,40,80,120], yTicks: [-15,-20,-25,-30] },
  { id: "I", clade: "B", data: diveI, xDomain: [-2.3, 83.5], yDomain: [-39.8, -5.4], xTicks: [0,20,40,60,80], xLabels: [0,40,80], yTicks: [-10,-15,-20,-25,-30,-35] },
  { id: "J", clade: "B", data: diveJ, xDomain: [-4.4, 126.8], yDomain: [-16.25, -4.1], xTicks: [0,20,40,60,80,100,120], xLabels: [0,40,80,120], yTicks: [-6,-8,-10,-12,-14,-16] },
  // column 3
  { id: "K", clade: "C", data: diveK, xDomain: [-5.5, 157.2], yDomain: [-66, -29], xTicks: [0,50,100,150], xLabels: [0,50,100,150], yTicks: [-30,-35,-40,-45,-50,-55,-60,-65] },
  { id: "L", clade: "C", data: diveL, xDomain: [-21.5, 575.7], yDomain: [-102, -1], xTicks: [0,100,200,300,400,500], xLabels: [0,200,400], yTicks: [-20,-40,-60,-80,-100] },
  { id: "M", clade: "C", data: diveM, xDomain: [-2.7, 96.9], yDomain: [-79.8, -31.2], xTicks: [0,20,40,60,80], xLabels: [0,40,80], yTicks: [-40,-50,-60,-70] },
  { id: "N", clade: "C", data: diveN, xDomain: [-3.5, 116.5], yDomain: [-112, -13.3], xTicks: [0,20,40,60,80,100], xLabels: [0,40,80], yTicks: [-20,-40,-60,-80,-100] },
  // column 4
  { id: "O", clade: "D", data: diveO, xDomain: [-51, 1303], yDomain: [-152, -28.4], xTicks: [0,200,400,600,800,1000,1200], xLabels: [0,400,800,1200], yTicks: [-40,-60,-80,-100,-120,-140] },
  { id: "P", clade: "D", data: diveP, xDomain: [-52, 1318], yDomain: [-173.6, -6.3], xTicks: [0,200,400,600,800,1000,1200], xLabels: [0,400,800,1200], yTicks: [-50,-100,-150] },
  { id: "Q", clade: "D", data: diveQ, xDomain: [-27.6, 698], yDomain: [-178, -28.8], xTicks: [0,100,200,300,400,500,600], xLabels: [0,200,400,600], yTicks: [-40,-60,-80,-100,-120,-140,-160] },
  { id: "R", clade: "D", data: diveR, xDomain: [-37, 925.5], yDomain: [-181.5, 3.1], xTicks: [0,200,400,600,800], xLabels: [0,400,800], yTicks: [0,-50,-100,-150] },
  // column 5
  { id: "S", clade: "E", data: diveS, xDomain: [-24.5, 665], yDomain: [-196, 3.8], xTicks: [0,100,200,300,400,500,600], xLabels: [0,200,400,600], yTicks: [0,-50,-100,-150] },
  { id: "T", clade: "E", data: diveT, xDomain: [-171, 4643], yDomain: [-199, -30], xTicks: [0,1000,2000,3000,4000], xLabels: [0,2000,4000], yTicks: [-50,-100,-150] },
  { id: "U", clade: "E", data: diveU, xDomain: [-214, 5806], yDomain: [-211.7, -16.3], xTicks: [0,1000,2000,3000,4000,5000], xLabels: [0,2000,4000], yTicks: [-50,-100,-150,-200] },
  { id: "V", clade: "E", data: diveV, xDomain: [-177, 4788], yDomain: [-218.5, -28.6], xTicks: [0,1000,2000,3000,4000], xLabels: [0,2000,4000], yTicks: [-50,-100,-150,-200] },
  // column 6
  { id: "W", clade: "F", data: diveW, xDomain: [-388, 10525], yDomain: [-180, 2.75], xTicks: [0,2000,4000,6000,8000,10000], xLabels: [0,4000,8000], yTicks: [0,-50,-100,-150] },
  { id: "X", clade: "F", data: diveX, xDomain: [-600, 16280], yDomain: [-217.7, 1.2], xTicks: [0,5000,10000,15000], xLabels: [0,5000,10000,15000], yTicks: [0,-50,-100,-150,-200] },
  { id: "Y", clade: "F", data: diveY, xDomain: [-312, 8450], yDomain: [-207.8, -0.25], xTicks: [0,2000,4000,6000,8000], xLabels: [0,4000,8000], yTicks: [-50,-100,-150,-200] },
  { id: "Z", clade: "F", data: diveZ, xDomain: [-580, 15700], yDomain: [-203.1, 3.9], xTicks: [0,5000,10000,15000], xLabels: [0,5000,10000,15000], yTicks: [0,-50,-100,-150,-200] },
];

const colLeft = [169, 491.5, 813.6, 1135.6, 1458.5, 1780.7];
const rowTop = [941.3, 1233.7, 1525, 1816.6];
const letterX = [88, 407, 729, 1049, 1372, 1688];
const letterY = [932, 1227, 1518, 1808];
const cladeStroke: Record<string, number> = { A: 5.5, B: 5.5, C: 5.5, D: 5.5, E: 6.5, F: 7.5 };

const minus = (v: number) => String(v).replace("-", "\u2212");
const points = (rows: number[][]) => rows.map(([x, y]) => ({ x, y }));
const bands = (rows: number[][]) => rows.map(([x, lo, hi]) => ({ x, band: [lo, hi] }));

function TreePanel() {
  return (
    <div style={{ position: "absolute", left: 0, top: 0 }}>
      <ComposedChart width={560} height={880} margin={{ top: 0, right: 0, bottom: 0, left: 0 }}>
        <XAxis type="number" dataKey="x" domain={[0, 560]} hide />
        <YAxis type="number" domain={[0.26, 7.4]} reversed hide />
        {treeBranches.map((seg, i) => (
          <Line key={i} data={points(seg)} dataKey="y" stroke="#0a0a0a" strokeWidth={5.5} strokeLinecap="square" dot={false} activeDot={false} isAnimationActive={false} />
        ))}
        {treeClades.map((name, i) => (
          <Area key={name} type="linear" data={[{ x: treeTips[i], band: [i + 1, i + 1] }, { x: treeBases[i], band: [i + 0.51, i + 1.49] }]} dataKey="band" fill={COLORS[name]} fillOpacity={1} stroke={COLORS[name]} strokeWidth={3} strokeLinejoin="round" dot={false} activeDot={false} isAnimationActive={false} />
        ))}
        {treeClades.map((name, i) => (
          <Line
            key={"label" + name}
            data={[{ x: treeBases[i], y: i + 1 }]}
            dataKey="y"
            stroke="none"
            activeDot={false}
            isAnimationActive={false}
            dot={({ cx, cy }: any) => (
              <text key={name} x={cx + 16} y={cy + 10} fontSize={37} fontFamily={FONT} fill={INK}>
                {`${name} (n=${treeCounts[i]})`}
              </text>
            )}
          />
        ))}
      </ComposedChart>
    </div>
  );
}

function MainPanel() {
  const xDomain = [-10, 25093];
  const yDomain = [-270, 10.58];
  const tickLine = { stroke: INK, strokeWidth: 3 };
  const tickText = { fontSize: 35.5, fontFamily: FONT, fill: INK };
  const bandProps = { type: "linear" as const, dataKey: "band", fillOpacity: 0.18, strokeOpacity: 0.35, strokeWidth: 2, dot: false, activeDot: false, isAnimationActive: false };
  const lineProps = { type: "linear" as const, dataKey: "y", strokeWidth: 9.5, strokeLinejoin: "round" as const, strokeLinecap: "round" as const, dot: false, activeDot: false, isAnimationActive: false };
  return (
    <div style={{ position: "absolute", left: 574, top: 0 }}>
      <ComposedChart width={1416} height={882} margin={{ top: 26, right: 46, bottom: 0, left: 0 }}>
        <XAxis type="number" dataKey="x" domain={xDomain} ticks={timeTicks} interval={0} height={100} axisLine={false} tickLine={tickLine} tickSize={20} tickMargin={18} tick={tickText} allowDataOverflow />
        <YAxis type="number" domain={yDomain} ticks={depthTicks} interval={0} width={150} axisLine={false} tickLine={tickLine} tickSize={19} tickMargin={19} tick={tickText} tickFormatter={minus} allowDataOverflow />
        <Area {...bandProps} data={bands(rangeF)} fill={COLORS.F} stroke={COLORS.F} />
        <Area {...bandProps} data={bands(rangeC)} fill={COLORS.C} stroke={COLORS.C} />
        <Area {...bandProps} data={bands(rangeB)} fill={COLORS.B} stroke={COLORS.B} />
        <Area {...bandProps} data={bands(rangeA)} fill={COLORS.A} stroke={COLORS.A} />
        <Area {...bandProps} data={bands(rangeD)} fill={COLORS.D} stroke={COLORS.D} />
        <Area {...bandProps} data={bands(rangeE)} fill={COLORS.E} stroke={COLORS.E} />
        <Line {...lineProps} data={points(meanG)} stroke={COLORS.G} />
        <Line {...lineProps} data={points(meanF)} stroke={COLORS.F} />
        <Line {...lineProps} data={points(meanC)} stroke={COLORS.C} />
        <Line {...lineProps} data={points(meanB)} stroke={COLORS.B} />
        <Line {...lineProps} data={points(meanA)} stroke={COLORS.A} />
        <Line {...lineProps} data={points(meanD)} stroke={COLORS.D} />
        <Line {...lineProps} data={points(meanE)} stroke={COLORS.E} />
        <ReferenceArea x1={xDomain[0]} x2={xDomain[1]} y1={yDomain[0]} y2={yDomain[1]} fill="none" stroke={INK} strokeWidth={3} ifOverflow="visible" />
      </ComposedChart>
    </div>
  );
}

function DivePanel({ panel, col, row }: any) {
  const W = 199;
  const H = 204;
  const TOP = 20;
  const tickLine = { stroke: INK, strokeWidth: 3 };
  const XTick = ({ x, y, payload }: any) => {
    if (!panel.xLabels.includes(payload.value)) return <g />;
    const tx = x;
    const ty = y + 11;
    return (
      <text x={tx} y={ty} dy="0.35em" textAnchor="end" transform={`rotate(-45 ${tx} ${ty})`} fontSize={26} fontFamily={FONT} fill={INK}>
        {payload.value}
      </text>
    );
  };
  return (
    <div style={{ position: "absolute", left: colLeft[col] - 100, top: rowTop[row] - TOP }}>
      <LineChart width={100 + W + 4} height={TOP + H + 76} margin={{ top: TOP, right: 4, bottom: 0, left: 0 }} data={points(panel.data)}>
        <XAxis type="number" dataKey="x" domain={panel.xDomain} ticks={panel.xTicks} interval={0} height={76} axisLine={false} tickLine={tickLine} tickSize={11} tick={XTick} allowDataOverflow />
        <YAxis type="number" domain={panel.yDomain} ticks={panel.yTicks} interval={0} width={100} axisLine={false} tickLine={tickLine} tickSize={11} tickMargin={6} tick={{ fontSize: 26, fontFamily: FONT, fill: INK }} tickFormatter={minus} allowDataOverflow />
        <Line type="linear" dataKey="y" stroke={COLORS[panel.clade]} strokeWidth={cladeStroke[panel.clade]} strokeLinejoin="round" strokeLinecap="round" dot={false} activeDot={false} isAnimationActive={false} />
        <ReferenceArea x1={panel.xDomain[0]} x2={panel.xDomain[1]} y1={panel.yDomain[0]} y2={panel.yDomain[1]} fill="none" stroke={INK} strokeWidth={3} ifOverflow="visible" />
      </LineChart>
    </div>
  );
}

function Annotations() {
  const legendY = [83, 126, 168, 211, 253, 296, 338];
  return (
    <svg width={1992} height={2098} style={{ position: "absolute", left: 0, top: 0, pointerEvents: "none" }} fontFamily={FONT} fill={INK}>
      <text x={88} y={24} fontSize={27} fontWeight="bold">A</text>
      <text x={554} y={24} fontSize={27} fontWeight="bold">B</text>
      {PANELS.map((p, i) => (
        <text key={p.id} x={letterX[Math.floor(i / 4)]} y={letterY[i % 4]} fontSize={27} fontWeight="bold">{p.id}</text>
      ))}
      <text x={1332} y={890} fontSize={36} textAnchor="middle">Time (s)</text>
      <text transform="translate(575 405) rotate(-90)" fontSize={36} textAnchor="middle">Depth (m)</text>
      <text transform="translate(39 1518) rotate(-90)" fontSize={45} textAnchor="middle">Depth (m)</text>
      <rect x={1696} y={41} width={172} height={339} fill="#fff" stroke={INK} strokeWidth={3} />
      {legendNames.map((name, i) => (
        <g key={name}>
          <line x1={1727} x2={1793} y1={legendY[i]} y2={legendY[i]} stroke={COLORS[name]} strokeWidth={6.5} strokeLinecap="round" />
          <text x={1823} y={legendY[i] + 13} fontSize={36}>{name}</text>
        </g>
      ))}
    </svg>
  );
}

export default function App() {
  return (
    <div style={{ position: "absolute", left: 0, top: 0, width: 1992, height: 2098, background: "#fff", overflow: "hidden" }}>
      <TreePanel />
      <MainPanel />
      {PANELS.map((p, i) => (
        <DivePanel key={p.id} panel={p} col={Math.floor(i / 4)} row={i % 4} />
      ))}
      <Annotations />
    </div>
  );
}
